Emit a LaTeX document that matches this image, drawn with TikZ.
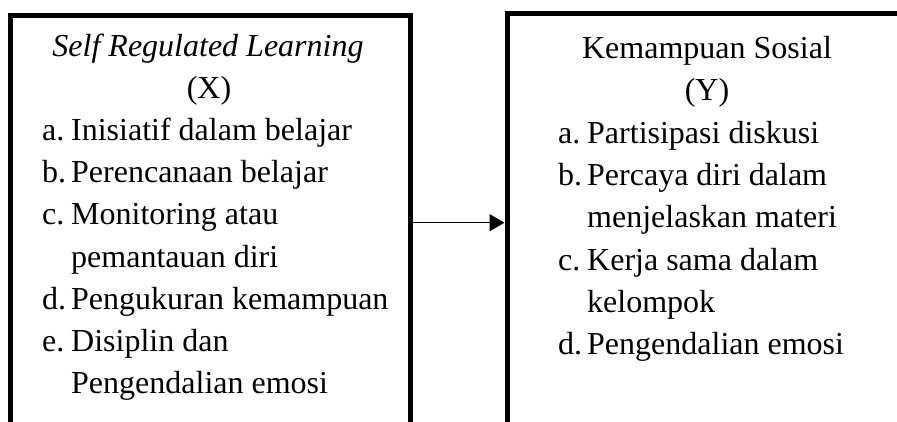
\documentclass[tikz,border=0pt]{standalone}
\usepackage{fontspec}
\setmainfont{Liberation Serif}
\usetikzlibrary{arrows.meta}
\newcommand{\butir}[1]{\makebox[29pt][l]{#1}}

\begin{document}
\begin{tikzpicture}[x=1pt, y=-1pt,
    varbox/.style ={rectangle, draw, line width=5pt, inner sep=0pt},
    heading/.style ={anchor=base, inner sep=0pt, font=\fontsize{32}{40}\selectfont},
    entry/.style ={anchor=base west, inner sep=0pt, font=\fontsize{32}{40}\selectfont}]
   \useasboundingbox (0,0) rectangle (897,422);
   \clip (0,0) rectangle (897,422);

   % the two boxes run on past the bottom (and the right one past the right side)
   \node[varbox, minimum width=400pt, minimum height=414.4pt] (X) at (210,222.7) {};
   \node[varbox, minimum width=413pt, minimum height=417.4pt] (Y) at (713.5,222.7) {};

   \node[heading] (Xtitle) at (208,57) {\itshape Self Regulated Learning};
   \node[heading] (Xlabel) at (209,99) {(X)};
   \node[entry] (Xa)  at (42,141) {\butir{a.}Inisiatif dalam belajar};
   \node[entry] (Xb)  at (42,183) {\butir{b.}Perencanaan belajar};
   \node[entry] (Xc)  at (42,225) {\butir{c.}Monitoring atau};
   \node[entry] (Xc2) at (71,267) {pemantauan diri};
   \node[entry] (Xd)  at (42,309) {\butir{d.}Pengukuran kemampuan};
   \node[entry] (Xe)  at (42,351) {\butir{e.}Disiplin dan};
   \node[entry] (Xe2) at (71,393) {Pengendalian emosi};

   \node[heading] (Ytitle) at (707,59) {Kemampuan Sosial};
   \node[heading] (Ylabel) at (707,101) {(Y)};
   \node[entry] (Ya)  at (558,144) {\butir{a.}Partisipasi diskusi};
   \node[entry] (Yb)  at (558,186) {\butir{b.}Percaya diri dalam};
   \node[entry] (Yb2) at (587,228) {menjelaskan materi};
   \node[entry] (Yc)  at (558,270) {\butir{c.}Kerja sama dalam};
   \node[entry] (Yc2) at (587,312) {kelompok};
   \node[entry] (Yd)  at (558,354) {\butir{d.}Pengendalian emosi};

   \draw[line width=1.3pt, -{Triangle[length=15pt,width=17pt]}] (X) to (Y);
 \end{tikzpicture}
\end{document}
